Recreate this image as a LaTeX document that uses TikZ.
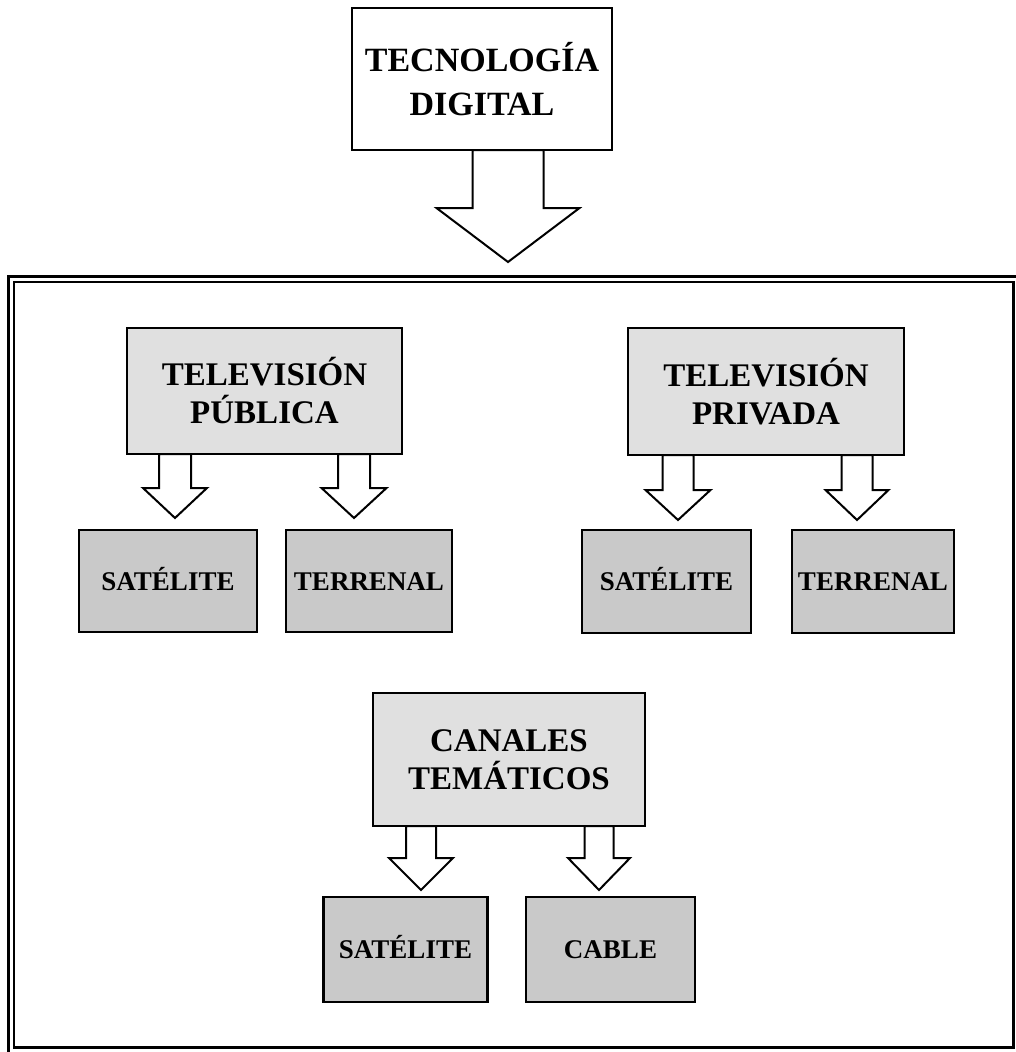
\documentclass[tikz,border=0pt]{standalone}
\usepackage{fontspec}
\setmainfont{Liberation Serif}
\usetikzlibrary{calc}

\tikzset{
  box/.style={draw, line width=2.2pt, inner sep=0pt, outer sep=0pt, align=center},
  mainbox/.style={box, fill=gray!24, font=\bfseries\fontsize{33}{38}\selectfont},
  leafbox/.style={box, fill=gray!42, text height=18pt, text depth=0pt,
                  font=\bfseries\fontsize{27}{30}\selectfont},
  hollow/.style={draw, fill=white, line width=2pt, line join=miter}
}

% parent, child, x, gap, head length, shaft half width, head half width
\newcommand{\hollowarrow}[7]{%
  \draw[hollow] let \p1=(#1.south), \p2=(#2.north) in
    (#3pt-#6pt,\y1) -- (#3pt-#6pt,\y2+#4pt+#5pt) -- (#3pt-#7pt,\y2+#4pt+#5pt)
    -- (#3pt,\y2+#4pt) -- (#3pt+#7pt,\y2+#4pt+#5pt) -- (#3pt+#6pt,\y2+#4pt+#5pt)
    -- (#3pt+#6pt,\y1) -- cycle;}

\begin{document}
\begin{tikzpicture}[x=1pt, y=-1pt]
\useasboundingbox (0,0) rectangle (1016,1052);

% frame round the lower part
\node [draw, double, double distance=3pt, line width=2.2pt, inner sep=0pt, outer sep=0pt,
       minimum width=1005pt, minimum height=771pt] (frame) at (513.5,664.5) {};

\node [box, fill=white, minimum width=260pt, minimum height=142pt,
       font=\bfseries\fontsize{34}{44}\selectfont] (digital) at (482,79) {TECNOLOGÍA\\DIGITAL};

\node [mainbox, minimum width=275pt, minimum height=126pt] (publica) at (264.5,391) {TELEVISIÓN\\PÚBLICA};
\node [mainbox, minimum width=276pt, minimum height=127pt] (privada) at (766,391.5) {TELEVISIÓN\\PRIVADA};
\node [mainbox, minimum width=272pt, minimum height=133pt] (canales) at (509,759.5) {CANALES\\TEMÁTICOS};

\node [leafbox, minimum width=178pt, minimum height=102pt] (sat1) at (168,581) {SATÉLITE};
\node [leafbox, minimum width=166pt, minimum height=102pt] (ter1) at (369,581) {TERRENAL};
\node [leafbox, minimum width=169pt, minimum height=103pt] (sat2) at (666.5,581.5) {SATÉLITE};
\node [leafbox, minimum width=162pt, minimum height=103pt] (ter2) at (873,581.5) {TERRENAL};
\node [leafbox, minimum width=164pt, minimum height=105pt] (sat3) at (405.5,949.5) {SATÉLITE};
\node [leafbox, minimum width=169pt, minimum height=105pt] (cable) at (610.5,949.5) {CABLE};

\hollowarrow{digital}{frame}{508}{17}{54}{35.5}{71.5}
\hollowarrow{publica}{sat1}{175}{12}{30}{16}{32}
\hollowarrow{publica}{ter1}{354}{12}{30}{16}{32.5}
\hollowarrow{privada}{sat2}{678}{10}{30}{15.5}{32.5}
\hollowarrow{privada}{ter2}{857}{10}{30}{15.5}{31.5}
\hollowarrow{canales}{sat3}{421}{7}{32}{15}{32}
\hollowarrow{canales}{cable}{599}{7}{32}{14.5}{31}
\end{tikzpicture}
\end{document}
